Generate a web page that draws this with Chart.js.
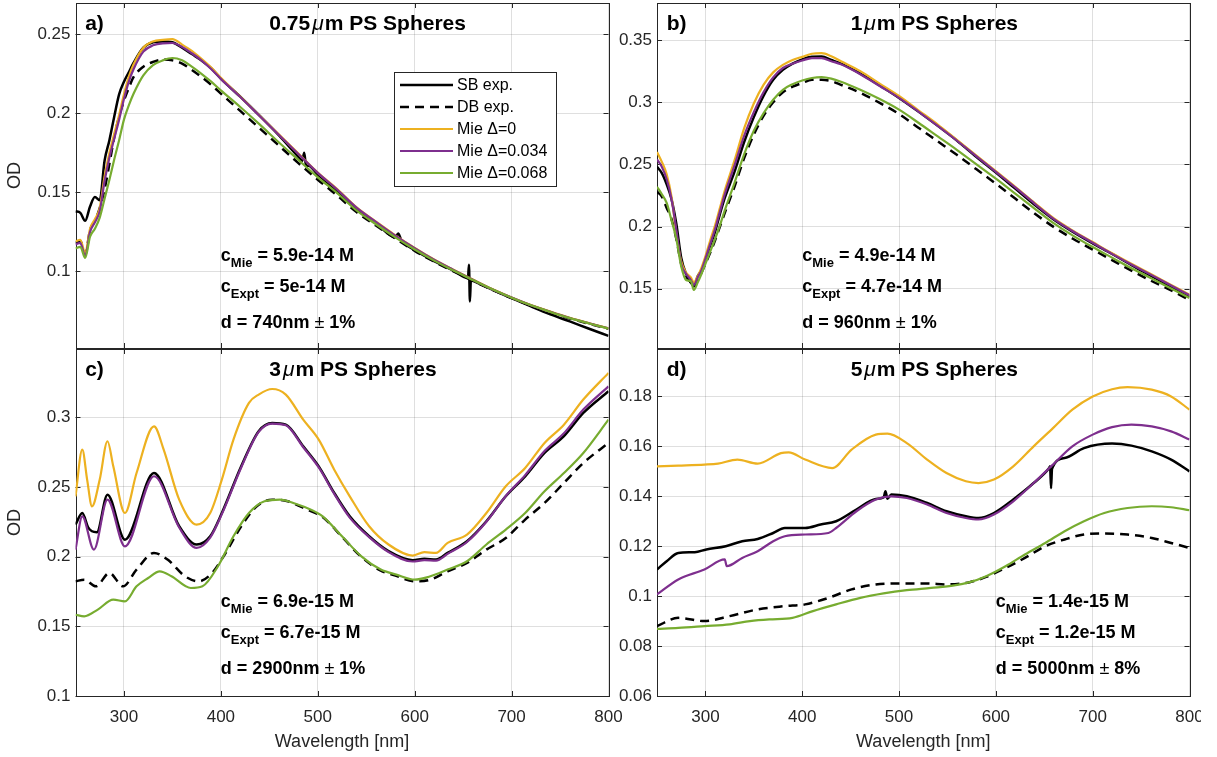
<!DOCTYPE html>
<html>
<head>
<meta charset="utf-8">
<script src="https://cdn.jsdelivr.net/npm/chart.js@4.4.1/dist/chart.umd.min.js"></script>
<style>
  body { margin: 0; background: #fff; width: 1217px; height: 757px; position: relative; overflow: hidden; }
  canvas { position: absolute; }
</style>
</head>
<body>
<canvas id="pa" width="612" height="350" style="left:0;top:0"></canvas>
<canvas id="pb" width="589" height="350" style="left:612px;top:0"></canvas>
<canvas id="pc" width="640" height="411" style="left:0;top:346px"></canvas>
<canvas id="pd" width="589" height="411" style="left:612px;top:346px"></canvas>
<script>
// ---- ticks ----
const xTicks = [300, 400, 500, 600, 700, 800];
const yTicksA = [0.1, 0.15, 0.2, 0.25];
const yTicksB = [0.15, 0.2, 0.25, 0.3, 0.35];
const yTicksC = [0.1, 0.15, 0.2, 0.25, 0.3];
const yTicksD = [0.06, 0.08, 0.1, 0.12, 0.14, 0.16, 0.18];

const seriesLabels = ["SB exp.", "DB exp.", "Mie \u0394=0", "Mie \u0394=0.034", "Mie \u0394=0.068"];

// ---- a) 0.75um ----
const wlA = [250,255,260,265,270,275,280,285,290,295,300,305,310,320,330,340,350,360,370,380,390,400,420,440,460,480,500,520,540,560,580,600,620,640,660,680,700,720,740,760,780,800];
const mie0A = [.119,.120,.1115,.127,.133,.140,.160,.175,.187,.199,.212,.223,.231,.2415,.2455,.2465,.247,.2435,.2395,.2345,.229,.2225,.2105,.1985,.1865,.1745,.1625,.152,.1405,.1315,.1228,.1148,.1075,.101,.0948,.0888,.0835,.0787,.0745,.0706,.0672,.064];
const mie1A = [.117,.118,.1095,.125,.131,.138,.157,.172,.184,.196,.209,.220,.228,.239,.243,.2443,.2445,.242,.238,.2335,.228,.2218,.2103,.1983,.1863,.1743,.1623,.1518,.1403,.1313,.1226,.1146,.1073,.1009,.0947,.0887,.0834,.0786,.0744,.0705,.0671,.0639];
const mie2A = [.1145,.1155,.1085,.122,.127,.134,.146,.158,.171,.183,.196,.205,.2125,.224,.2305,.2335,.235,.2335,.2295,.225,.22,.2145,.204,.193,.1815,.1705,.1595,.1495,.1385,.1298,.1215,.1138,.1068,.1005,.0945,.0886,.0833,.0785,.0743,.0704,.067,.0638];
const dbA = [.118,.119,.111,.126,.132,.14,.152,.168,.185,.198,.208,.216,.223,.2295,.2325,.234,.2335,.2315,.2275,.223,.218,.2125,.2015,.1905,.1795,.1685,.158,.148,.1375,.129,.1208,.113,.1062,.1,.094,.0883,.0831,.0783,.0741,.0702,.0668,.0636];
const wlSbA = [250,255,260,265,270,275,280,285,290,295,300,305,310,320,330,340,350,360,370,380,390,400,420,440,460,480,484,486,488,490,500,520,540,560,580,583,586,600,620,640,655,656,657,658,660,680,700,720,740,760,780,800];
const sbA = [.138,.137,.132,.141,.147,.145,.170,.183,.198,.212,.220,.226,.232,.2415,.245,.2455,.245,.2415,.2375,.2335,.2285,.222,.2105,.1985,.186,.1725,.170,.175,.1665,.167,.1612,.1508,.1395,.1305,.1215,.124,.120,.1135,.1065,.1005,.0957,.1042,.0809,.0948,.0942,.0885,.083,.0778,.0728,.0683,.0637,.0592];

// ---- b) 1um ----
const wlB = [250,255,260,265,270,275,280,285,288,292,296,300,305,310,315,320,330,340,350,360,370,380,390,400,410,420,430,440,460,480,500,520,540,560,580,600,620,640,660,680,700,720,740,760,780,800];
const sbB = [.248,.243,.234,.222,.202,.175,.162,.155,.152,.16,.165,.174,.185,.196,.21,.223,.244,.268,.288,.305,.318,.326,.331,.3345,.3365,.3368,.334,.331,.323,.3135,.3035,.2925,.281,.269,.256,.2435,.2305,.2175,.2055,.1955,.1865,.178,.169,.1605,.152,.1435];
const dbB = [.228,.224,.215,.206,.19,.17,.16,.155,.151,.157,.163,.17,.179,.189,.2,.211,.232,.255,.274,.289,.3,.308,.3125,.3155,.318,.318,.317,.314,.3075,.2995,.2905,.2795,.2685,.2575,.246,.2345,.2225,.2105,.1995,.19,.1815,.173,.1645,.1565,.149,.141];
const mie0B = [.26,.252,.242,.224,.194,.172,.163,.159,.155,.16,.167,.176,.189,.201,.215,.229,.253,.279,.299,.314,.324,.33,.334,.3365,.339,.3395,.337,.333,.325,.315,.305,.2935,.282,.2695,.257,.2445,.232,.219,.2065,.1965,.1875,.1785,.17,.1618,.1535,.1452];
const mie1B = [.254,.248,.238,.222,.197,.17,.162,.157,.153,.159,.165,.174,.186,.198,.212,.226,.249,.273,.292,.308,.32,.3275,.331,.3335,.3355,.3355,.333,.3305,.3225,.313,.3035,.2925,.281,.269,.2565,.244,.2315,.2185,.206,.196,.187,.178,.1695,.1613,.153,.1447];
const mie2B = [.232,.226,.219,.205,.19,.168,.157,.156,.149,.155,.162,.17,.18,.19,.201,.213,.235,.258,.277,.291,.302,.31,.3145,.3175,.3195,.3202,.319,.3165,.31,.3025,.294,.2835,.2725,.2615,.25,.2385,.2265,.2145,.2025,.1925,.1835,.175,.1665,.1585,.1505,.1425];

// ---- c) 3um ----
const wlSbC = [250,257,263,267,272,283,301,331,357,375,389,401,421,439,453,467,485,501,517,533,553,573,598,610,622,634,654,674,694,714,734,754,774,800];
const sbC = [.223,.2313,.221,.2182,.2175,.2445,.2122,.26,.2218,.2087,.2146,.2313,.2648,.29,.2959,.2947,.2792,.2648,.2457,.2289,.2146,.2039,.1974,.1984,.1979,.2027,.2111,.2254,.2433,.2576,.2744,.2864,.3031,.3187];
const wlDbC = [250,259,271,285,299,313,331,345,363,377,391,405,421,437,453,469,489,505,525,545,565,581,600,614,634,654,674,694,714,734,754,774,800];
const dbC = [.1823,.1835,.1787,.1883,.1787,.1907,.2027,.1979,.1859,.1823,.1883,.2027,.2218,.2361,.2409,.2397,.2337,.2285,.2142,.1998,.19,.1862,.1823,.183,.1895,.1955,.205,.2134,.2266,.2385,.2529,.2672,.2816];
const wlMie0C = [250,257,262,267,275,283,289,301,313,331,341,357,375,389,401,413,429,439,453,467,485,501,517,533,553,573,598,610,622,634,654,674,694,714,734,754,774,800];
const mie0C = [.2433,.2768,.2553,.2361,.2553,.2828,.2648,.2313,.26,.2935,.2768,.2409,.223,.2313,.2553,.284,.3103,.3163,.3203,.3163,.2983,.284,.2624,.2433,.2218,.2087,.2008,.2032,.2027,.2099,.2158,.2313,.2505,.2636,.2816,.2947,.3127,.3318];
const wlMie1C = [250,257,269,283,301,331,357,375,389,401,421,439,453,467,485,501,517,533,553,573,598,610,622,634,654,674,694,714,734,754,774,800];
const mie1C = [.205,.2289,.205,.2409,.2074,.2577,.2209,.2063,.2137,.2305,.264,.2895,.2955,.2943,.2785,.264,.245,.228,.214,.2033,.1965,.1975,.1972,.202,.2105,.225,.2435,.2585,.2758,.2885,.3055,.3222];
const wlMie2C = [250,259,273,289,301,313,325,337,349,369,381,397,413,429,445,461,477,493,505,525,545,565,581,600,614,634,654,674,694,714,734,754,774,800];
const mie2C = [.1583,.1572,.162,.1691,.1679,.1787,.1847,.1895,.1859,.1775,.1787,.1931,.2146,.2313,.2397,.2409,.238,.2337,.2289,.2146,.2002,.1907,.1871,.1835,.1854,.1907,.1967,.2087,.2194,.2313,.2469,.26,.2744,.2983];

// ---- d) 5um ----
const wlSbD = [250,260,272,289,301,321,338,354,370,382,403,419,435,456,476,484,486,488,492,508,529,549,569,582,598,618,639,655,656,657,658,671,691,720,740,761,781,800];
const sbD = [.1107,.114,.1173,.1176,.1187,.12,.122,.1229,.1253,.1273,.1273,.1287,.13,.1347,.1389,.1395,.142,.139,.1407,.14,.1373,.134,.132,.1313,.1333,.1387,.1453,.1513,.152,.1433,.151,.1553,.1593,.1611,.1603,.158,.1547,.15];
const wlDbD = [250,272,299,325,354,382,403,427,451,476,500,529,549,573,590,610,630,651,671,691,712,736,761,781,800];
const dbD = [.088,.0913,.09,.092,.0947,.096,.0967,.0993,.1027,.1047,.1051,.1051,.1047,.1056,.1077,.1113,.1153,.12,.1227,.1247,.1251,.1247,.1233,.1213,.1193];
const wlMie0D = [250,272,299,313,333,354,378,386,403,431,451,476,488,508,529,549,569,582,598,618,639,659,679,700,720,736,761,781,800];
const mie0D = [.152,.1523,.1527,.1531,.1547,.1531,.1573,.1576,.1547,.1513,.1587,.1647,.1651,.1613,.1547,.1493,.146,.1453,.1467,.152,.16,.1673,.1747,.18,.1829,.1837,.1827,.18,.1747];
const wlMie1D = [250,272,299,320,322,338,354,370,382,403,427,435,456,476,492,508,529,549,569,582,598,618,639,659,679,700,720,740,761,781,800];
const mie1D = [.1007,.1067,.1107,.1147,.112,.1153,.118,.122,.124,.1247,.1253,.1273,.134,.1387,.14,.1393,.1367,.1333,.1313,.1307,.1327,.138,.1453,.1527,.16,.1647,.1677,.1687,.168,.166,.1627];
const wlMie2D = [250,272,299,325,346,366,390,411,435,460,484,508,533,557,573,590,610,630,651,671,691,712,736,761,781,800];
const mie2D = [.0869,.0873,.088,.0887,.09,.0907,.0913,.094,.0967,.0993,.1011,.1024,.1033,.1043,.1056,.108,.112,.1167,.1213,.126,.13,.1333,.1353,.136,.1356,.1344];

const FONT = "'Liberation Sans', Arial, Helvetica, sans-serif";
const INK = "#262626";
const styles = [
  { borderColor: "#000000", borderWidth: 2.5, order: 5 },
  { borderColor: "#000000", borderWidth: 2.5, borderDash: [9, 6], order: 4 },
  { borderColor: "#EDB120", borderWidth: 2.2, order: 3 },
  { borderColor: "#7E2F8E", borderWidth: 2.2, order: 2 },
  { borderColor: "#77AC30", borderWidth: 2.2, order: 1 },
];

function line(i, wl, vals) {
  return Object.assign({
    label: seriesLabels[i],
    data: wl.map((w, k) => ({ x: w, y: vals[k] })),
    pointRadius: 0,
    fill: false,
    cubicInterpolationMode: "monotone",
  }, styles[i]);
}

// draw a run of text pieces with different fonts
function textRuns(ctx, x, y, parts) {
  for (const p of parts) {
    ctx.font = p.f;
    ctx.fillText(p.t, x, y + (p.dy || 0));
    x += ctx.measureText(p.t).width + (p.gap || 0);
  }
}

const B18 = "bold 18px " + FONT, B13 = "bold 13px " + FONT, R18 = "18px " + FONT;
function notes(cMie, cExpt, d, pct) {
  return [
    [{ t: "c", f: B18 }, { t: "Mie", f: B13, dy: 6 }, { t: " = " + cMie + " M", f: B18 }],
    [{ t: "c", f: B18 }, { t: "Expt", f: B13, dy: 6 }, { t: " = " + cExpt + " M", f: B18 }],
    [{ t: "d = " + d + "nm ", f: B18 }, { t: "\u00b1", f: R18 }, { t: " " + pct + "%", f: B18 }],
  ];
}

const deco = {
  id: "deco",
  beforeDatasetsDraw(chart) {
    const { ctx, chartArea: a, scales: { x, y } } = chart;
    ctx.save();
    ctx.strokeStyle = INK;
    ctx.lineWidth = 1;
    ctx.beginPath();
    for (const t of x.ticks) {
      const px = Math.round(x.getPixelForValue(t.value)) + 0.5;
      ctx.moveTo(px, a.bottom); ctx.lineTo(px, a.bottom - 5);
      ctx.moveTo(px, a.top); ctx.lineTo(px, a.top + 5);
    }
    for (const t of y.ticks) {
      const py = Math.round(y.getPixelForValue(t.value)) + 0.5;
      ctx.moveTo(a.left, py); ctx.lineTo(a.left + 5, py);
      ctx.moveTo(a.right, py); ctx.lineTo(a.right - 5, py);
    }
    ctx.stroke();
    ctx.strokeRect(Math.round(a.left) + 0.5, Math.round(a.top) + 0.5, Math.round(a.right - a.left), Math.round(a.bottom - a.top));
    ctx.restore();
  },
  afterDraw(chart, args, o) {
    const { ctx, chartArea: a, scales: { x } } = chart;
    ctx.save();
    ctx.fillStyle = "#000";
    ctx.textBaseline = "alphabetic";
    ctx.textAlign = "left";
    const top = a.top;
    textRuns(ctx, x.getPixelForValue(260), top + 27, [{ t: o.tag, f: "bold 21px " + FONT }]);
    textRuns(ctx, x.getPixelForValue(450), top + 27, [
      { t: o.size, f: "bold 21px " + FONT, gap: 2 },
      { t: "\u03bc", f: "italic 21px " + FONT, gap: 1 },
      { t: "m PS Spheres", f: "bold 21px " + FONT },
    ]);
    const nx = x.getPixelForValue(o.noteX);
    const base = [258, 289, 325];
    o.notes.forEach((r, i) => textRuns(ctx, nx, top + base[i], r));

    if (o.legend) {
      const L = 394, T = 72.5, W = 162, H = 114;
      ctx.fillStyle = "#fff";
      ctx.fillRect(L, T, W, H);
      ctx.strokeStyle = INK;
      ctx.lineWidth = 1;
      ctx.strokeRect(L + 0.5, T, W, H);
      ctx.font = "16px " + FONT;
      ctx.textBaseline = "middle";
      chart.data.datasets.forEach((ds, i) => {
        const yy = T + 12.5 + i * 22;
        ctx.strokeStyle = ds.borderColor;
        ctx.lineWidth = ds.borderWidth;
        ctx.setLineDash(ds.borderDash || []);
        ctx.beginPath(); ctx.moveTo(L + 6, yy); ctx.lineTo(L + 59, yy); ctx.stroke();
        ctx.setLineDash([]);
        ctx.fillStyle = "#000";
        ctx.fillText(ds.label, L + 63, yy + 1);
      });
    }
    ctx.restore();
  },
};

const fmt = v => String(Math.round(v * 1000) / 1000);

function panel(id, cfg) {
  const bottomRow = cfg.bottom;
  new Chart(document.getElementById(id), {
    type: "line",
    data: { datasets: cfg.datasets },
    plugins: [deco],
    options: {
      responsive: false,
      animation: false,
      devicePixelRatio: 1,
      events: [],
      layout: { padding: { left: 0, top: 3, right: cfg.padRight, bottom: bottomRow ? 0 : 2 } },
      plugins: {
        legend: { display: false },
        tooltip: { enabled: false },
        deco: { tag: cfg.tag, size: cfg.size, noteX: cfg.noteX, notes: cfg.notes, legend: !!cfg.legend },
      },
      scales: {
        x: {
          type: "linear",
          min: 250,
          max: 800,
          afterBuildTicks: s => { s.ticks = xTicks.map(v => ({ value: v })); },
          afterFit: s => { s.height = bottomRow ? 61 : 0; s.paddingLeft = 0; s.paddingRight = 0; },
          grid: { color: "rgba(38,38,38,0.15)", drawTicks: false },
          border: { display: false },
          ticks: {
            display: bottomRow,
            autoSkip: false,
            maxRotation: 0,
            padding: 11,
            color: INK,
            font: { family: FONT, size: 17 },
          },
          title: {
            display: bottomRow,
            text: "Wavelength [nm]",
            color: INK,
            font: { family: FONT, size: 18 },
            padding: { top: 0, bottom: 4 },
          },
        },
        y: {
          type: "linear",
          min: cfg.yMin,
          max: cfg.yMax,
          afterBuildTicks: s => { s.ticks = cfg.yTicks.map(v => ({ value: v })); },
          afterFit: s => { s.width = cfg.yWidth; s.paddingTop = 0; s.paddingBottom = 0; },
          grid: { color: "rgba(38,38,38,0.15)", drawTicks: false },
          border: { display: false },
          ticks: {
            padding: 5,
            color: INK,
            callback: fmt,
            font: { family: FONT, size: 17 },
          },
          title: {
            display: !!cfg.yTitle,
            text: "OD",
            color: INK,
            font: { family: FONT, size: 18 },
            padding: { top: 4, bottom: 0 },
          },
        },
      },
    },
  });
}

panel("pa", {
  tag: "a)", size: "0.75", noteX: 400, yTitle: true, legend: true,
  yMin: 0.0515, yMax: 0.2698, yTicks: yTicksA, yWidth: 75.5, padRight: 3.5,
  notes: notes("5.9e-14", "5e-14", "740", "1"),
  datasets: [line(0, wlSbA, sbA), line(1, wlA, dbA), line(2, wlA, mie0A), line(3, wlA, mie1A), line(4, wlA, mie2A)],
});
panel("pb", {
  tag: "b)", size: "1", noteX: 400,
  yMin: 0.1023, yMax: 0.3798, yTicks: yTicksB, yWidth: 45, padRight: 11.5,
  notes: notes("4.9e-14", "4.7e-14", "960", "1"),
  datasets: [line(0, wlB, sbB), line(1, wlB, dbB), line(2, wlB, mie0B), line(3, wlB, mie1B), line(4, wlB, mie2B)],
});
panel("pc", {
  tag: "c)", size: "3", noteX: 400, yTitle: true, bottom: true,
  yMin: 0.1, yMax: 0.349, yTicks: yTicksC, yWidth: 75.5, padRight: 31.5,
  notes: notes("6.9e-15", "6.7e-15", "2900", "1"),
  datasets: [line(0, wlSbC, sbC), line(1, wlDbC, dbC), line(2, wlMie0C, mie0C), line(3, wlMie1C, mie1C), line(4, wlMie2C, mie2C)],
});
panel("pd", {
  tag: "d)", size: "5", noteX: 600, bottom: true,
  yMin: 0.06, yMax: 0.199, yTicks: yTicksD, yWidth: 45, padRight: 11.5,
  notes: notes("1.4e-15", "1.2e-15", "5000", "8"),
  datasets: [line(0, wlSbD, sbD), line(1, wlDbD, dbD), line(2, wlMie0D, mie0D), line(3, wlMie1D, mie1D), line(4, wlMie2D, mie2D)],
});
</script>
</body>
</html>
